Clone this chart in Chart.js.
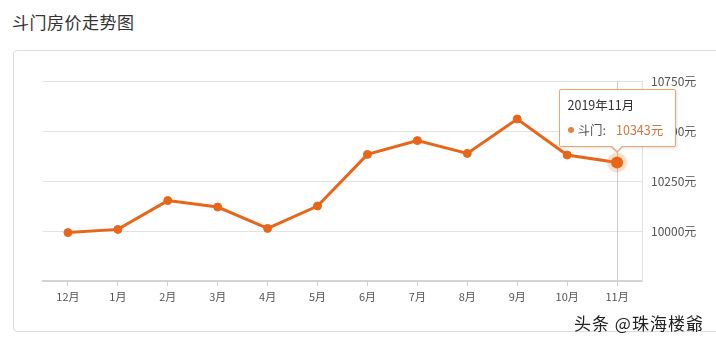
<!DOCTYPE html>
<html>
<head>
<meta charset="utf-8">
<script src="https://cdn.jsdelivr.net/npm/chart.js@4/dist/chart.umd.min.js"></script>
<style>
  html, body { margin: 0; padding: 0; background: #fff; }
  body { width: 716px; height: 341px; position: relative; overflow: hidden;
         font-family: "Noto Sans CJK SC", "Noto Sans", sans-serif; }
  #title { position: absolute; left: 12px; top: 9px; font-size: 17px; color: #333; letter-spacing: 0.5px; }
  #panel { position: absolute; left: 13px; top: 50px; width: 720px; height: 282px;
           box-sizing: border-box; border: 1px solid #dcdcdc; border-radius: 4px; }
  #wrap { position: absolute; left: 13px; top: 50px; width: 703px; height: 281px; }
  #tip { position: absolute; display: none; width: 117px; height: 58px; box-sizing: border-box;
         background: #fff; border: 1px solid #eba56f; border-radius: 2px;
         box-shadow: 1px 1px 3px rgba(0,0,0,0.12); font-size: 12.5px; pointer-events: none; }
  #tip:before, #tip:after { content: ""; position: absolute; left: 50%; border-style: solid; }
  #tip:before { bottom: -7px; margin-left: -7px; border-width: 7px 7px 0 7px; border-color: #eba56f transparent transparent transparent; }
  #tip:after { bottom: -5px; margin-left: -6px; border-width: 6px 6px 0 6px; border-color: #fff transparent transparent transparent; }
  #tip .t { position: absolute; left: 8px; top: 5px; color: #333; }
  #tip .b { position: absolute; left: 8px; top: 30px; color: #555; white-space: nowrap; }
  #tip .dot { display: inline-block; width: 6px; height: 6px; border-radius: 3px; background: #e2833f; margin-right: 4px; vertical-align: 2px; }
  #tip .v { color: #d2783e; margin-left: 10px; }
  #mark { position: absolute; left: 574px; top: 310px; font-size: 17px; color: #222;
          text-shadow: 0 0 2px #fff, 0 0 2px #fff; letter-spacing: 1px; }
</style>
</head>
<body>
<div id="title">斗门房价走势图</div>
<div id="panel"></div>
<div id="wrap"><canvas id="lineChart"></canvas></div>
<div id="tip"><span class="t"></span><span class="b"><span class="dot"></span><span class="n"></span><span class="v"></span></span></div>
<div id="mark">头条 @珠海楼爺</div>
<script>
const months = ['12月', '1月', '2月', '3月', '4月', '5月', '6月', '7月', '8月', '9月', '10月', '11月'];
const monthTitles = ['2018年12月', '2019年1月', '2019年2月', '2019年3月', '2019年4月', '2019年5月',
  '2019年6月', '2019年7月', '2019年8月', '2019年9月', '2019年10月', '2019年11月'];
const seriesName = '斗门';
const prices = [9992, 10008, 10152, 10120, 10013, 10125, 10383, 10452, 10388, 10560, 10380, 10343];
const yTicks = [10000, 10250, 10500, 10750];
const yMin = 9750;
const yMax = 10750;
const unit = '元';
const activeIndex = 11;

const orange = '#e8661a';

const tipEl = document.getElementById('tip');

function externalTip(context) {
  const tt = context.tooltip;
  if (tt.opacity === 0 || !tt.dataPoints || !tt.dataPoints.length) {
    tipEl.style.display = 'none';
    return;
  }
  const dp = tt.dataPoints[0];
  tipEl.querySelector('.t').textContent = monthTitles[dp.dataIndex];
  tipEl.querySelector('.n').textContent = dp.dataset.label + ':';
  tipEl.querySelector('.v').textContent = dp.raw + unit;
  const wrap = document.getElementById('wrap');
  const x = wrap.offsetLeft + tt.caretX;
  const y = wrap.offsetTop + tt.caretY;
  tipEl.style.display = 'block';
  tipEl.style.left = (x - 58.5) + 'px';
  tipEl.style.top = (y - 15 - 58) + 'px';
}

// crosshair + halo behind the active point
const focusPlugin = {
  id: 'focus',
  beforeDatasetsDraw(chart) {
    const active = chart.getActiveElements();
    if (!active.length) return;
    const pt = active[0].element;
    const { ctx, chartArea } = chart;
    ctx.save();
    ctx.strokeStyle = '#cccccc';
    ctx.lineWidth = 1;
    ctx.beginPath();
    ctx.moveTo(Math.round(pt.x) + 0.5, chartArea.top);
    ctx.lineTo(Math.round(pt.x) + 0.5, chartArea.bottom);
    ctx.stroke();
    ctx.restore();
  },
  afterDatasetsDraw(chart) {
    const active = chart.getActiveElements();
    if (!active.length) return;
    const pt = active[0].element;
    const { ctx } = chart;
    ctx.save();
    ctx.fillStyle = 'rgba(240, 140, 70, 0.28)';
    ctx.beginPath();
    ctx.arc(pt.x, pt.y, 10, 0, Math.PI * 2);
    ctx.fill();
    ctx.fillStyle = orange;
    ctx.beginPath();
    ctx.arc(pt.x, pt.y, 6, 0, Math.PI * 2);
    ctx.fill();
    ctx.restore();
  }
};

const chart = new Chart(document.getElementById('lineChart'), {
  type: 'line',
  data: {
    labels: months,
    datasets: [
      {
        label: seriesName,
        data: prices,
        borderColor: orange,
        backgroundColor: orange,
        borderWidth: 3,
        tension: 0,
        pointRadius: 4,
        pointBackgroundColor: orange,
        pointBorderColor: orange,
        pointBorderWidth: 1,
        pointHoverRadius: 4,
      },
    ],
  },
  options: {
    responsive: true,
    maintainAspectRatio: false,
    animation: false,
    events: [],
    layout: { padding: { left: 30, top: 31, right: 0, bottom: 0 } },
    scales: {
      x: {
        offset: true,
        afterFit(scale) { scale.height = 50; },
        grid: {
          display: true,
          drawOnChartArea: false,
          drawTicks: true,
          tickLength: 5,
          color: '#cfcfcf',
        },
        border: { display: true, color: '#d4d4d4', width: 2 },
        ticks: {
          padding: 4,
          color: '#555',
          font: { family: '"Noto Sans CJK SC", sans-serif', size: 11 },
          maxRotation: 0,
          autoSkip: false,
        },
      },
      y: {
        position: 'right',
        min: yMin,
        max: yMax,
        afterFit(scale) { scale.width = 74; },
        afterBuildTicks(scale) {
          scale.ticks = [yMin].concat(yTicks).map(v => ({ value: v }));
        },
        grid: { color: '#e2e2e2', lineWidth: 1, drawTicks: false },
        border: { display: true, color: '#e2e2e2' },
        ticks: {
          padding: 9,
          color: '#555',
          font: { family: '"Noto Sans CJK SC", sans-serif', size: 12 },
          callback: v => (yTicks.includes(v) ? v + unit : ''),
        },
      },
    },
    plugins: {
      legend: { display: false },
      tooltip: { enabled: false, external: externalTip },
    },
  },
  plugins: [focusPlugin],
});

const activePt = chart.getDatasetMeta(0).data[activeIndex];
chart.setActiveElements([{ datasetIndex: 0, index: activeIndex }]);
chart.tooltip.setActiveElements([{ datasetIndex: 0, index: activeIndex }], { x: activePt.x, y: activePt.y });
chart.update();
</script>
</body>
</html>
